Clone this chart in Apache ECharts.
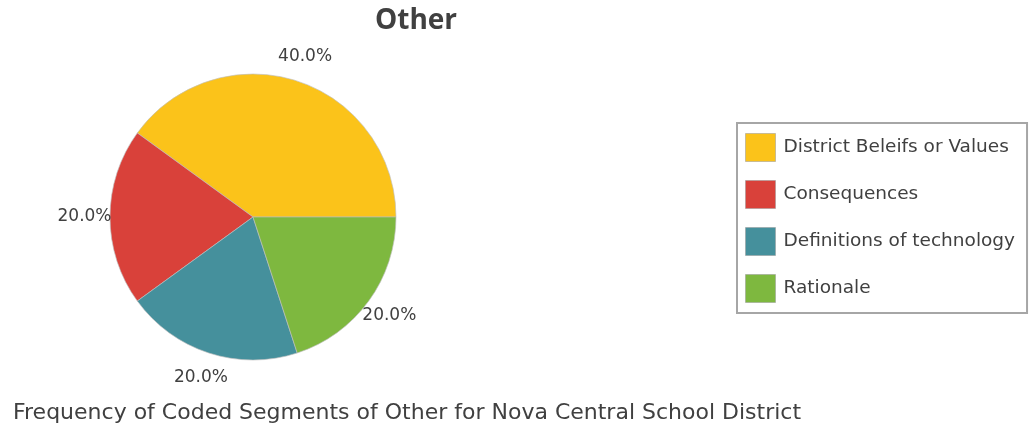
<!DOCTYPE html>
<html>
<head>
<meta charset="utf-8">
<script src="https://cdn.jsdelivr.net/npm/echarts@6/dist/echarts.min.js"></script>
<style>
  html, body { margin: 0; padding: 0; background: #fff; }
  #chart { width: 1029px; height: 434px; }
</style>
</head>
<body>
<div id="chart"></div>
<script>
// Coded segment counts for the "Other" theme
const categories = ['District Beleifs or Values', 'Consequences', 'Definitions of technology', 'Rationale'];
const segmentCounts = [2, 1, 1, 1];
const sliceColors = ['#FBC31A', '#D9413A', '#45909C', '#7EB83F'];
const chartTitle = 'Other';
const caption = 'Frequency of Coded Segments of Other for Nova Central School District';

const FONT = '"DejaVu Sans", "Open Sans", sans-serif';
const TITLE_FONT = '"Open Sans", "Noto Sans", sans-serif';
const pieData = categories.map((name, i) => ({
  name: name,
  value: segmentCounts[i],
  itemStyle: { color: sliceColors[i] }
}));

const center = [253, 217];
const pctLabel = p => p.percent.toFixed(1) + '%';

const chart = echarts.init(document.getElementById('chart'), null, { renderer: 'canvas' });
chart.setOption({
  backgroundColor: '#ffffff',
  animation: false,
  title: [
    {
      text: chartTitle,
      left: 411, top: 2,
      textAlign: 'center',
      textStyle: { fontFamily: TITLE_FONT, fontSize: 28, fontWeight: 'bold', color: '#404040' }
    },
    {
      text: caption,
      left: 8, top: 397,
      textStyle: { fontFamily: FONT, fontSize: 22, fontWeight: 'normal', color: '#404040' }
    }
  ],
  legend: {
    orient: 'vertical',
    left: 737, top: 123,
    padding: [10, 12, 10, 8],
    borderColor: '#a6a6a6',
    borderWidth: 2,
    itemWidth: 30,
    itemHeight: 28,
    itemGap: 18,
    icon: 'rect',
    data: categories,
    itemStyle: { borderColor: 'rgba(150,150,150,0.5)', borderWidth: 1 },
    textStyle: { fontFamily: FONT, fontSize: 18.5, color: '#404040', padding: [0, 0, 0, 3] },
    selectedMode: false
  },
  series: [
    {
      type: 'pie',
      center: center,
      radius: 143,
      startAngle: 0,
      clockwise: false,
      silent: true,
      data: pieData,
      itemStyle: { borderColor: 'rgba(190,190,190,0.8)', borderWidth: 0.8 },
      label: { show: false },
      labelLine: { show: false }
    },
    {
      // ring outside the pie that only carries the percentage labels
      type: 'pie',
      center: center,
      radius: [143, 188],
      startAngle: 0,
      clockwise: false,
      silent: true,
      data: pieData.map(d => ({ name: d.name, value: d.value })),
      itemStyle: { color: 'rgba(0,0,0,0)', borderWidth: 0 },
      label: {
        show: true,
        position: 'inside',
        formatter: pctLabel,
        fontFamily: FONT,
        fontSize: 17,
        color: '#404040'
      },
      labelLine: { show: false }
    }
  ]
});
</script>
</body>
</html>
